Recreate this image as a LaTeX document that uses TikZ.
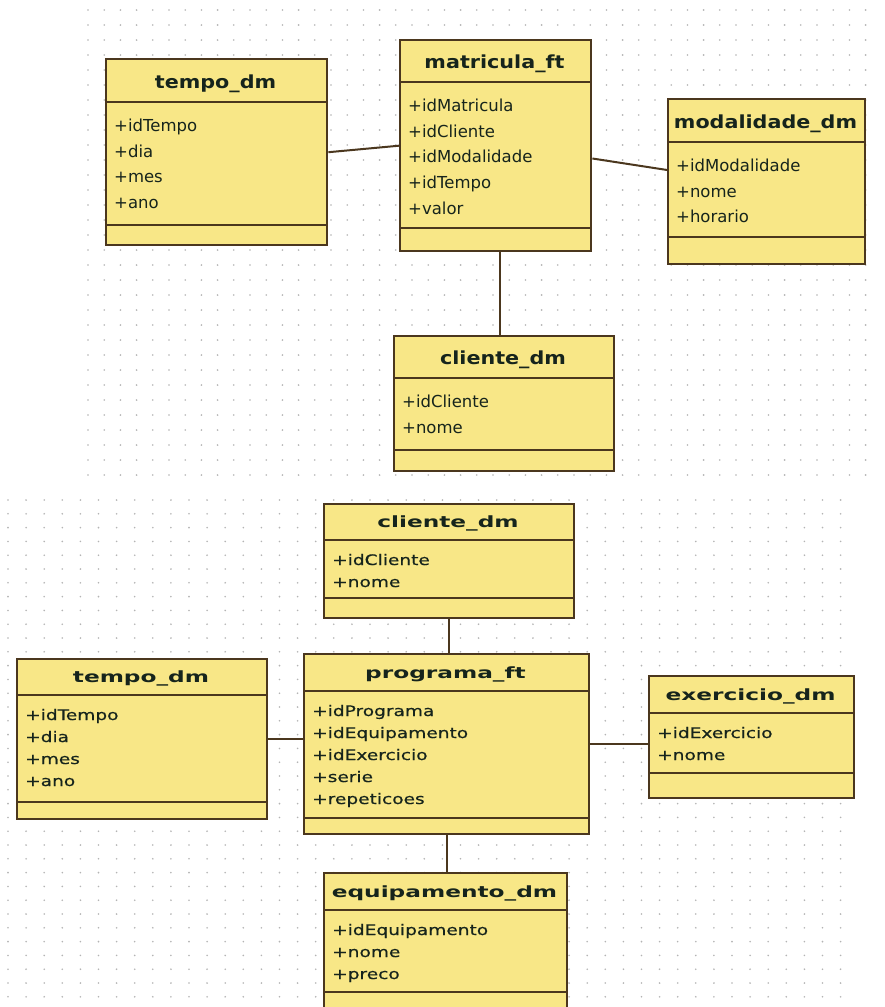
\documentclass[tikz,border=0pt]{standalone}
\usepackage{fontspec}
\setmainfont{DejaVu Sans}
\newfontfamily\topttlfont[FakeStretch=1.15]{DejaVu Sans}
\newfontfamily\botattrfont[FakeStretch=1.28,FakeBold=0.5]{DejaVu Sans}
\newfontfamily\botttlfont[FakeStretch=1.5]{DejaVu Sans}
\usetikzlibrary{calc}
\definecolor{boxfill}{RGB}{248,231,135}
\definecolor{boxline}{RGB}{75,55,30}
\definecolor{txt}{RGB}{22,36,28}
\definecolor{griddot}{RGB}{180,180,180}
\tikzset{
  clsbox/.style={draw=boxline, fill=boxfill, line width=2.4pt, inner sep=0pt, rectangle},
  sep/.style={draw=boxline, line width=2pt},
  conn/.style={draw=boxline, line width=2pt},
}
% #1 name #2 x1 #3 y1 #4 x2 #5 y2 #6 header line y #7 attribute line y #8 title #9 attributes
\newcommand\umlclass[9]{%
  \node[clsbox, anchor=north west, minimum width={(#4)-(#2)}, minimum height={(#5)-(#3)}] (#1) at (#2,#3) {};
  \draw[sep] (#2,#6) -- (#4,#6);
  \draw[sep] (#2,#7) -- (#4,#7);
  \node[ttl, anchor=base] at ({((#2)+(#4))/2}, {(#6)-\ttloff}) {#8};
  \foreach \a [count=\i] in {#9} {
    \node[attr, anchor=base west] at ({(#2)+9}, {(#6)+\firstoff+(\i-1)*\attrsep}) {\a};
  }%
}
\begin{document}
\begin{tikzpicture}[x=1pt, y=-1pt]
\useasboundingbox (0,0) rectangle (884,1007);
\clip (0,0) rectangle (884,1007);
\fill[white] (0,0) rectangle (884,1007);
% dot grids
\foreach \r in {0,...,31} {
  \foreach \c in {0,...,48} {
    \fill[griddot] ({88+\c*16.2},{10+\r*15}) circle (0.9);
  }
}
\foreach \r in {0,...,37} {
  \foreach \c in {0,...,46} {
    \fill[griddot] ({8+\c*18.1},{500+\r*13.8}) circle (0.9);
  }
}
% ---------- top diagram ----------
\tikzset{
  ttl/.style={font=\topttlfont\bfseries\fontsize{18}{20}\selectfont, text=txt, inner sep=0pt},
  attr/.style={font=\fontsize{16.5}{18}\selectfont, text=txt, inner sep=0pt},
}
\def\ttloff{14}\def\firstoff{29.5}\def\attrsep{25.7}
\umlclass{tempoA}{105}{58}{326}{244}{102}{225}{tempo\_dm}{+idTempo,+dia,+mes,+ano}
\umlclass{matr}{399}{39}{590}{250}{82}{228}{matricula\_ft}{+idMatricula,+idCliente,+idModalidade,+idTempo,+valor}
\umlclass{moda}{667}{98}{864}{263}{142}{237}{modalidade\_dm}{+idModalidade,+nome,+horario}
\umlclass{clienteA}{393}{335}{613}{470}{378}{450}{cliente\_dm}{+idCliente,+nome}
\draw[conn] (tempoA.east) -- (matr.west);
\draw[conn] ($(matr.north east)!0.56!(matr.south east)$) -- ($(moda.north west)!0.43!(moda.south west)$);
\coordinate (mb) at ($(matr.south west)!0.52!(matr.south east)$);
\draw[conn] (mb) -- (mb |- clienteA.north);
% ---------- bottom diagram ----------
\tikzset{
  ttl/.style={font=\botttlfont\bfseries\fontsize{15.5}{17}\selectfont, text=txt, inner sep=0pt},
  attr/.style={font=\botattrfont\fontsize{14.5}{16}\selectfont, text=txt, inner sep=0pt},
}
\def\ttloff{13}\def\firstoff{25}\def\attrsep{22}
\umlclass{clienteB}{323}{503}{573}{617}{540}{598}{cliente\_dm}{+idCliente,+nome}
\umlclass{tempoB}{16}{658}{266}{818}{695}{802}{tempo\_dm}{+idTempo,+dia,+mes,+ano}
\umlclass{prog}{303}{653}{588}{833}{691}{818}{programa\_ft}{+idPrograma,+idEquipamento,+idExercicio,+serie,+repeticoes}
\umlclass{exer}{648}{675}{853}{797}{713}{773}{exercicio\_dm}{+idExercicio,+nome}
\umlclass{equip}{323}{872}{566}{1030}{910}{992}{equipamento\_dm}{+idEquipamento,+nome,+preco}
\draw[conn] (clienteB.south) -- (clienteB.south |- prog.north);
\draw[conn] (tempoB.east) -- (tempoB.east -| prog.west);
\draw[conn] (prog.east) -- (prog.east -| exer.west);
\draw[conn] (prog.south) -- (prog.south |- equip.north);
\end{tikzpicture}
\end{document}
